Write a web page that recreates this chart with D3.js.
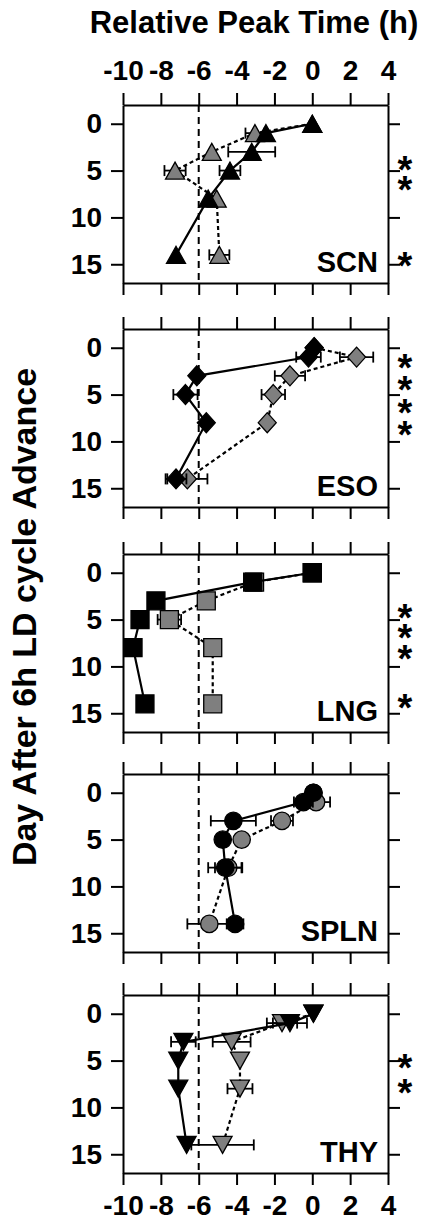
<!DOCTYPE html>
<html>
<head>
<meta charset="utf-8">
<title>Relative Peak Time</title>
<script src="https://d3js.org/d3.v7.min.js"></script>
<style>
  body { margin: 0; background: #fff; }
  svg text { font-family: "Liberation Sans", Arial, sans-serif; font-weight: bold; fill: #000; }
</style>
</head>
<body>
<svg id="chart"></svg>
<script>
// ---- data ----
const xTicks = [-10, -8, -6, -4, -2, 0, 2, 4];
const yTicks = [0, 5, 10, 15];
const days = [0, 1, 3, 5, 8, 14];
const tissues = ["SCN", "ESO", "LNG", "SPLN", "THY"];
const shapes = ["up", "diamond", "square", "circle", "down"];

// black = solid line, gray = dashed line; errors are half-widths (h)
const scnBlack = [0, -2.45, -3.2, -4.35, -5.5, -7.2];
const scnBlackErr = [0, 0, 1.24, 0.55, 0, 0];
const scnGray = [0, -3.03, -5.31, -7.25, -5.05, -4.91];
const scnGrayErr = [0, 0.5, 0, 0.56, 0, 0.53];

const esoBlack = [0.1, -0.2, -6.1, -6.7, -5.6, -7.2];
const esoBlackErr = [0, 0.65, 0, 0.64, 0, 0.55];
const esoGray = [0.1, 2.34, -1.18, -2.06, -2.38, -6.6];
const esoGrayErr = [0, 0.88, 0.8, 0.62, 0, 1.06];

const lngBlack = [0, -3.15, -8.26, -9.1, -9.47, -8.84];
const lngBlackErr = [0, 0, 0, 0, 0, 0];
const lngGray = [0, -3.05, -5.6, -7.55, -5.26, -5.26];
const lngGrayErr = [0, 0, 0, 0.62, 0, 0];

const splnBlack = [0.06, -0.47, -4.17, -4.73, -4.6, -4.08];
const splnBlackErr = [0, 0.5, 1.19, 0, 0.9, 0.44];
const splnGray = [0.06, 0.2, -1.6, -3.73, -4.44, -5.44];
const splnGrayErr = [0, 0.74, 0.58, 0, 0.7, 1.16];

const thyBlack = [0.06, -1.18, -6.81, -7.08, -7.08, -6.64];
const thyBlackErr = [0, 0.9, 0.65, 0, 0, 0];
const thyGray = [0.06, -1.6, -4.26, -3.82, -3.82, -4.74];
const thyGrayErr = [0, 0.8, 1.0, 0, 0.66, 1.65];

// significance asterisks, in day units
const stars = [
  [4.0, 6.1, 14.2],
  [1.2, 3.5, 6.0, 8.3],
  [3.9, 6.0, 8.2, 13.5],
  [],
  [4.8, 7.5]
];

const blackVals = [scnBlack, esoBlack, lngBlack, splnBlack, thyBlack];
const blackErrs = [scnBlackErr, esoBlackErr, lngBlackErr, splnBlackErr, thyBlackErr];
const grayVals = [scnGray, esoGray, lngGray, splnGray, thyGray];
const grayErrs = [scnGrayErr, esoGrayErr, lngGrayErr, splnGrayErr, thyGrayErr];

// ---- layout ----
const width = 425, height = 1222;
const panelTops = [105, 329, 554, 774, 995];
const panelH = 178;
const tick = 12;

const svg = d3.select("#chart")
    .attr("width", width)
    .attr("height", height);

const x = d3.scaleLinear().domain([-10, 4]).range([123, 388]);

function shapePath(kind) {
    switch (kind) {
        case "up": return "M0,-8.5L9.5,8.5L-9.5,8.5Z";
        case "down": return "M0,8.5L9.5,-8.5L-9.5,-8.5Z";
        case "square": return "M-9,-9H9V9H-9Z";
        case "diamond": return "M0,-10L9,0L0,10L-9,0Z";
        default: return d3.arc()({innerRadius: 0, outerRadius: 8.7, startAngle: 0, endAngle: 2 * Math.PI});
    }
}

function styleAxis(g, fs) {
    g.attr("font-size", fs).attr("font-family", null);
    g.select(".domain").attr("stroke-width", 2);
    g.selectAll(".tick line").attr("stroke-width", 2);
}

svg.append("text")
    .attr("x", 254).attr("y", 33)
    .attr("text-anchor", "middle")
    .attr("font-size", 31)
    .text("Relative Peak Time (h)");

svg.append("text")
    .attr("transform", "translate(36,617) rotate(-90)")
    .attr("text-anchor", "middle")
    .attr("font-size", 34)
    .text("Day After 6h LD cycle Advance");

tissues.forEach((name, i) => {
    const top = panelTops[i];
    const y = d3.scaleLinear().domain([-2, 17]).range([top, top + panelH]);
    const g = svg.append("g");

    g.append("g")
        .attr("transform", `translate(0,${top})`)
        .call(d3.axisTop(x).tickValues(xTicks).tickSize(tick).tickSizeOuter(0).tickPadding(13)
            .tickFormat(d => i === 0 ? String(d) : ""))
        .call(a => styleAxis(a, 28));

    g.append("g")
        .attr("transform", `translate(0,${top + panelH})`)
        .call(d3.axisBottom(x).tickValues(xTicks).tickSize(tick).tickSizeOuter(0).tickPadding(10)
            .tickFormat(d => i === tissues.length - 1 ? String(d) : ""))
        .call(a => styleAxis(a, 28));

    g.append("g")
        .attr("transform", `translate(${x.range()[0]},0)`)
        .call(d3.axisLeft(y).tickValues(yTicks).tickSize(tick).tickSizeOuter(0).tickPadding(9))
        .call(a => styleAxis(a, 28));

    g.append("g")
        .attr("transform", `translate(${x.range()[1]},0)`)
        .call(d3.axisRight(y).tickValues(yTicks).tickSize(tick).tickSizeOuter(0).tickFormat(""))
        .call(a => styleAxis(a, 28));

    // -6 h reference line
    g.append("line")
        .attr("x1", x(-6)).attr("x2", x(-6))
        .attr("y1", top).attr("y2", top + panelH)
        .attr("stroke", "#000").attr("stroke-width", 2)
        .attr("stroke-dasharray", "7,5");

    const series = [
        {vals: grayVals[i], errs: grayErrs[i], fill: "#7f7f7f", dash: "4,3"},
        {vals: blackVals[i], errs: blackErrs[i], fill: "#000", dash: null}
    ];

    series.forEach(s => {
        const pts = days.map((d, k) => ({day: d, v: s.vals[k], e: s.errs[k]}));
        const line = d3.line().x(d => x(d.v)).y(d => y(d.day));

        g.append("path")
            .attr("d", line(pts))
            .attr("fill", "none")
            .attr("stroke", "#000")
            .attr("stroke-width", 2.2)
            .attr("stroke-dasharray", s.dash);

        const eb = g.append("g").attr("stroke", "#000").attr("stroke-width", 1.8);
        pts.filter(d => d.e > 0).forEach(d => {
            const yy = y(d.day), x0 = x(d.v - d.e), x1 = x(d.v + d.e);
            eb.append("line").attr("x1", x0).attr("x2", x1).attr("y1", yy).attr("y2", yy);
            eb.append("line").attr("x1", x0).attr("x2", x0).attr("y1", yy - 5.5).attr("y2", yy + 5.5);
            eb.append("line").attr("x1", x1).attr("x2", x1).attr("y1", yy - 5.5).attr("y2", yy + 5.5);
        });

        g.selectAll(null)
            .data(pts)
            .enter()
            .append("path")
            .attr("transform", d => `translate(${x(d.v)},${y(d.day)})`)
            .attr("d", shapePath(shapes[i]))
            .attr("fill", s.fill)
            .attr("stroke", "#000")
            .attr("stroke-width", 1.3);
    });

    g.append("text")
        .attr("x", 378).attr("y", top + 167)
        .attr("text-anchor", "end")
        .attr("font-size", 29)
        .text(name);

    const fs = 38;
    g.selectAll(null)
        .data(stars[i])
        .enter()
        .append("text")
        .attr("x", 405)
        .attr("y", d => y(d) + 0.58 * fs)
        .attr("text-anchor", "middle")
        .attr("font-size", fs)
        .text("*");
});
</script>
</body>
</html>
